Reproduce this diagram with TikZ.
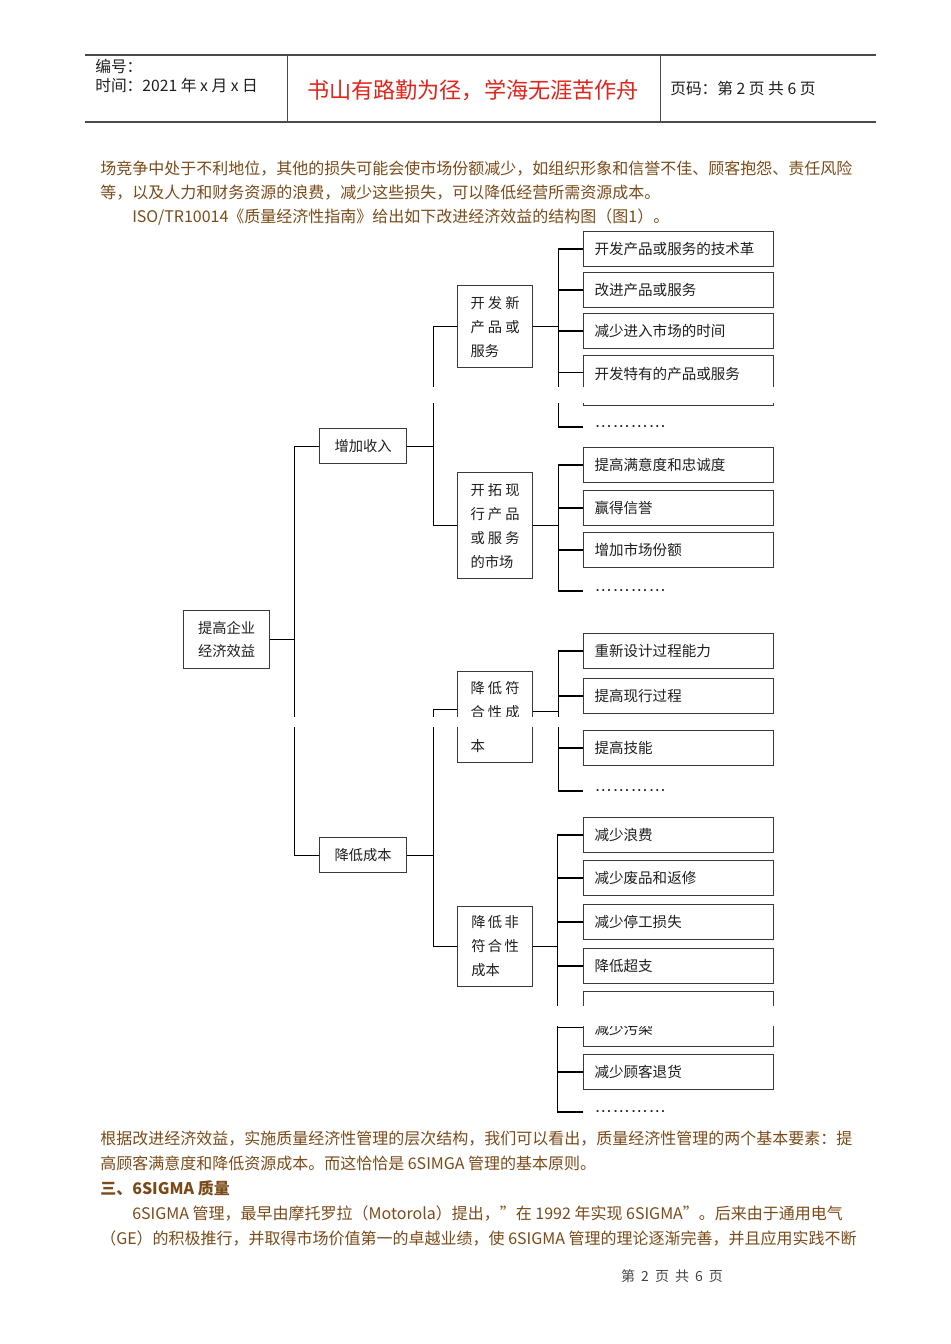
\documentclass[tikz,border=0pt]{standalone}
\usepackage{fontspec}
\setmainfont{Noto Sans CJK SC}
\newfontfamily\dotsfont{Liberation Sans}
\usepackage{tikz}
\usepackage{xcolor}
\usetikzlibrary{positioning,calc}
\definecolor{qeink}{HTML}{1E1E1E}
\definecolor{qeframe}{HTML}{3A3A3A}
\definecolor{qerule}{HTML}{4A4A4A}
\definecolor{qebrown}{HTML}{7B4A18}
\definecolor{qered}{HTML}{E2231A}
\definecolor{qefoot}{HTML}{444444}
\tikzset{
  rootBox/.style={draw=qeframe, line width=0.9pt, align=left, text=qeink, font=\fontsize{10.7}{17.25}\selectfont, minimum width=64.5pt, minimum height=43.5pt, anchor=north west},
  midBox/.style={draw=qeframe, line width=0.9pt, text=qeink, font=\fontsize{10.7}{13}\selectfont, minimum width=65.25pt, minimum height=26.25pt, anchor=north west},
  subBox/.style={draw=qeframe, line width=0.9pt, align=left, text=qeink, font=\fontsize{10.7}{18}\selectfont, minimum width=56.25pt, inner ysep=0pt, anchor=north west},
  leafBox/.style={draw=qeframe, line width=0.9pt, align=left, text=qeink, text width=126pt, inner xsep=8.25pt, inner ysep=0pt, minimum height=26pt, font=\fontsize{10.9}{13}\selectfont, anchor=north west},
  dotsText/.style={font=\dotsfont\fontsize{13.5}{14}\selectfont, text=qeink, anchor=west, inner sep=0pt},
  treeLine/.style={draw=black, line width=0.9pt},
  gapStrip/.style={fill=white},
  paraText/.style={font=\fontsize{12}{14}\selectfont, text=qebrown, anchor=west, inner sep=0pt},
  headText/.style={font=\fontsize{11.8}{13}\selectfont, text=qeink, anchor=west, inner sep=0pt},
  headRule/.style={draw=qerule, line width=0.9pt}
}
\begin{document}
\begin{tikzpicture}[x=0.75pt, y=-0.75pt]
  \useasboundingbox (0,0) rectangle (950,1344);
  % page header
  \draw[headRule] (85,55) -- (876,55);
  \draw[headRule] (85,122) -- (876,122);
  \draw[headRule, line width=0.6pt] (287,55) -- (287,122);
  \draw[headRule, line width=0.6pt] (660,55) -- (660,122);
  \node[headText] (hdNo) at (95,66) {编号：};
  \node[headText] (hdDate) at (95,86) {时间：2021 年 x 月 x 日};
  \node[font=\fontsize{16.6}{18}\selectfont, text=qered, inner sep=0pt] (hdMotto) at (473,90) {书山有路勤为径，学海无涯苦作舟};
  \node[headText] (hdPage) at (670,89) {页码：第 2 页 共 6 页};

  % running text above the chart
  \node[paraText] (p1) at (100,169) {场竞争中处于不利地位，其他的损失可能会使市场份额减少，如组织形象和信誉不佳、顾客抱怨、责任风险};
  \node[paraText] (p2) at (100,193) {等，以及人力和财务资源的浪费，减少这些损失，可以降低经营所需资源成本。};
  \node[paraText] (p3) at (132,217) {ISO/TR10014《质量经济性指南》给出如下改进经济效益的结构图（图1）。};

  % structure chart
  \node[rootBox] (root) at (183,610) {提高企业\\经济效益};
  \node[midBox] (inc) at (319,428) {增加收入};
  \node[midBox] (cut) at (319,837) {降低成本};
  \node[subBox, minimum height=61.5pt] (dev) at (457,285) {开 发 新\\产 品 或\\服务};
  \node[subBox, minimum height=79.5pt] (mkt) at (457,472) {开 拓 现\\行 产 品\\或 服 务\\的市场};
  \node[subBox, minimum height=68.25pt] (conf) at (457,671) {降 低 符\\合 性 成\\[8pt]本};
  \node[subBox, minimum height=60pt] (nconf) at (457,906) {降\,低\,非\\符\,合\,性\\成本};

  \node[leafBox] (d1) at (583,231) {开发产品或服务的技术革};
  \node[leafBox] (d2) at (583,272) {改进产品或服务};
  \node[leafBox] (d3) at (583,313) {减少进入市场的时间};
  \node[leafBox, minimum height=37.5pt, text depth=10.4pt] (d4) at (583,355) {开发特有的产品或服务};
  \node[leafBox] (m1) at (583,447) {提高满意度和忠诚度};
  \node[leafBox] (m2) at (583,490) {赢得信誉};
  \node[leafBox] (m3) at (583,532) {增加市场份额};
  \node[leafBox] (c1) at (583,633) {重新设计过程能力};
  \node[leafBox] (c2) at (583,678) {提高现行过程};
  \node[leafBox] (c3) at (583,730) {提高技能};
  \node[leafBox] (n1) at (583,817) {减少浪费};
  \node[leafBox] (n2) at (583,860) {减少废品和返修};
  \node[leafBox] (n3) at (583,904) {减少停工损失};
  \node[leafBox] (n4) at (583,948) {降低超支};
  \node[leafBox, minimum height=41.25pt, text height=23.5pt] (n5) at (583,991) {减少污染};
  \node[leafBox] (n6) at (583,1054) {减少顾客退货};

  \coordinate (devEnd) at (583,427);
  \coordinate (mktEnd) at (583,591);
  \coordinate (confEnd) at (583,791);
  \coordinate (nconfEnd) at (583,1112);
  \foreach \g in {dev,mkt,conf,nconf}
    \node[dotsText] (\g Dots) at ([xshift=8.25pt,yshift=0.5pt]\g End) {…………};

  % tree connectors
  \draw[treeLine] (root.east) -- ++(24,0) coordinate (trunk);
  \draw[treeLine] (inc.west) -| (trunk) |- (cut.west);
  \draw[treeLine] (inc.east) -- ++(26,0) coordinate (incBus);
  \draw[treeLine] (dev.west) -| (incBus) |- (mkt.west);
  \draw[treeLine] (cut.east) -- ++(26,0) coordinate (cutBus);
  \draw[treeLine] ([yshift=5.5pt]conf.west) -| (cutBus) |- (nconf.west);

  \draw[treeLine] (dev.east) -- ++(25,0) coordinate (devBus);
  \draw[treeLine] (d1.west) -| (devBus) |- (devEnd);
  \foreach \leaf in {d2,d3}
    \draw[treeLine] (\leaf.west) -- (\leaf.west -| devBus);
  \draw[treeLine] ([yshift=6pt]d4.west) -- ([yshift=6pt]d4.west -| devBus);

  \draw[treeLine] (mkt.east) -- ++(25,0) coordinate (mktBus);
  \draw[treeLine] (m1.west) -| (mktBus) |- (mktEnd);
  \foreach \leaf in {m2,m3}
    \draw[treeLine] (\leaf.west) -- (\leaf.west -| mktBus);

  \draw[treeLine] ([yshift=4pt]conf.east) -- ++(25,0) coordinate (confBus);
  \draw[treeLine] (c1.west) -| (confBus) |- (confEnd);
  \foreach \leaf in {c2,c3}
    \draw[treeLine] (\leaf.west) -- (\leaf.west -| confBus);

  \draw[treeLine] (nconf.east) -- ++(24,0) coordinate (nconfBus);
  \draw[treeLine] (n1.west) -| (nconfBus) |- (nconfEnd);
  \foreach \leaf in {n2,n3,n4,n6}
    \draw[treeLine] (\leaf.west) -- (\leaf.west -| nconfBus);
  \draw[treeLine] ([yshift=-6.5pt]n5.west) -- ([yshift=-6.5pt]n5.west -| nconfBus);

  % page-break gaps in the printed chart
  \fill[gapStrip] (420,387) rectangle (790,403);
  \fill[gapStrip] (280,717) rectangle (790,727);
  \fill[gapStrip] (540,1006) rectangle (790,1026);

  % running text below the chart
  \node[paraText] (q1) at (100,1139) {根据改进经济效益，实施质量经济性管理的层次结构，我们可以看出，质量经济性管理的两个基本要素：提};
  \node[paraText] (q2) at (100,1163) {高顾客满意度和降低资源成本。而这恰恰是 6SIMGA 管理的基本原则。};
  \node[paraText, font=\bfseries\fontsize{12}{14}\selectfont] (q3) at (100,1188) {三、6SIGMA 质量};
  \node[paraText] (q4) at (132,1213) {6SIGMA 管理，最早由摩托罗拉（Motorola）提出，"在 1992 年实现 6SIGMA"。后来由于通用电气};
  \node[paraText] (q5) at (100,1238) {（GE）的积极推行，并取得市场价值第一的卓越业绩，使 6SIGMA 管理的理论逐渐完善，并且应用实践不断};

  \node[font=\fontsize{10.5}{12}\selectfont, text=qefoot] (foot) at (672,1276) {第\hspace{4.5pt}2\hspace{4.5pt}页\hspace{4.5pt}共\hspace{4.5pt}6\hspace{4.5pt}页};
\end{tikzpicture}
\end{document}
